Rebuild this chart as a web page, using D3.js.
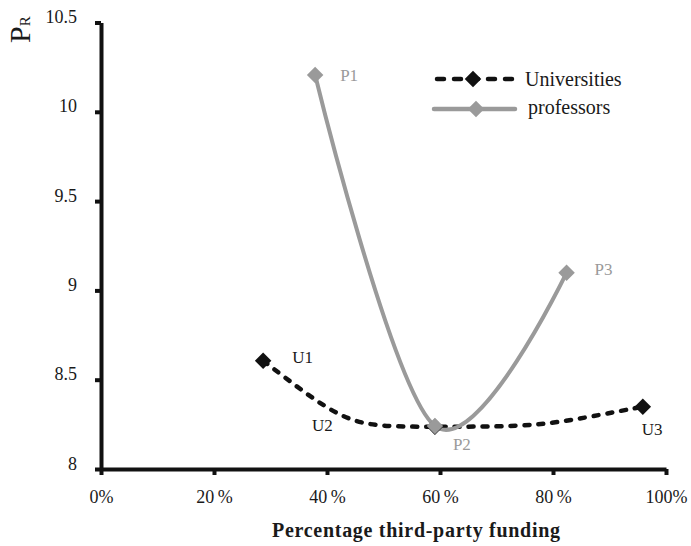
<!DOCTYPE html>
<html><head><meta charset="utf-8">
<script src="https://cdn.jsdelivr.net/npm/d3@7"></script>
<style>
body{margin:0;background:#fff;}
</style></head>
<body><svg id="chart" width="691" height="546"></svg>
<script>
// ---- data ----
const xTicks = [0, 0.2, 0.4, 0.6, 0.8, 1.0];
const yTicks = [8, 8.5, 9, 9.5, 10, 10.5];
const uniLabels = ["U1", "U2", "U3"];
const uniX = [0.287, 0.591, 0.959];
const uniY = [8.606, 8.237, 8.349];
const profLabels = ["P1", "P2", "P3"];
const profX = [0.379, 0.591, 0.824];
const profY = [10.206, 8.241, 9.099];
const seriesNames = ["Universities", "professors"];

// ---- layout ----
const FONT = '"Liberation Serif","DejaVu Serif",serif';
const svg = d3.select("#chart").attr("font-family", FONT);
const x = d3.scaleLinear().domain([0, 1]).range([101, 666]);
const y = d3.scaleLinear().domain([8, 10.5]).range([469, 22.5]);
const black = "#111", gray = "#9a9a9a", textCol = "#1a1a1a";

const uni = uniX.map((v, i) => ({x: v, y: uniY[i], label: uniLabels[i]}));
const prof = profX.map((v, i) => ({x: v, y: profY[i], label: profLabels[i]}));

// smoothing curve for d3.line: monotone-style tangents, long Bezier handles
function curveLongHandle(context) {
  const K = 0.5;
  let pts;
  return {
    areaStart() {}, areaEnd() {},
    lineStart() { pts = []; },
    point(px, py) { pts.push([+px, +py]); },
    lineEnd() {
      const n = pts.length;
      if (!n) return;
      context.moveTo(pts[0][0], pts[0][1]);
      if (n === 1) return;
      const h = [], s = [], t = new Array(n).fill(0);
      for (let i = 0; i < n - 1; i++) {
        h[i] = pts[i + 1][0] - pts[i][0];
        s[i] = (pts[i + 1][1] - pts[i][1]) / h[i];
      }
      for (let i = 1; i < n - 1; i++) {
        t[i] = s[i - 1] * s[i] <= 0 ? 0 : (s[i - 1] * h[i] + s[i] * h[i - 1]) / (h[i - 1] + h[i]);
      }
      if (n === 2) { t[0] = t[1] = s[0]; }
      else { t[0] = 2 * s[0] - t[1]; t[n - 1] = 2 * s[n - 2] - t[n - 2]; }
      for (let i = 0; i < n - 1; i++) {
        const d = K * h[i];
        context.bezierCurveTo(pts[i][0] + d, pts[i][1] + d * t[i],
          pts[i + 1][0] - d, pts[i + 1][1] - d * t[i + 1],
          pts[i + 1][0], pts[i + 1][1]);
      }
    }
  };
}

// axes
const xAxis = svg.append("g").attr("transform", `translate(0,${y(8)})`)
  .call(d3.axisBottom(x).tickValues(xTicks).tickSize(6).tickSizeOuter(0)
    .tickFormat(d => {
      const p = Math.round(d * 100);
      return (p === 0 || p === 100) ? p + "%" : p + "\u2009%";
    }));
const yAxis = svg.append("g").attr("transform", `translate(${x(0)},0)`)
  .call(d3.axisLeft(y).tickValues(yTicks).tickSize(6).tickSizeOuter(0)
    .tickFormat(d => String(d)));
[xAxis, yAxis].forEach(g => {
  g.attr("font-family", FONT);
  g.select(".domain").attr("stroke", black).attr("stroke-width", 4);
  g.selectAll(".tick line").attr("stroke", black).attr("stroke-width", 4);
  g.selectAll(".tick text").attr("fill", textCol).attr("font-family", FONT)
    .attr("font-size", 18);
});
xAxis.selectAll(".tick text").attr("y", 34).attr("dy", 0);
yAxis.selectAll(".tick text").attr("x", -24).attr("dy", 0).attr("y", 0);

// axis titles
svg.append("text").attr("x", 416).attr("y", 537).attr("text-anchor", "middle")
  .attr("textLength", 288).attr("lengthAdjust", "spacing")
  .attr("font-size", 20).attr("font-weight", "bold").attr("fill", textCol)
  .attr("font-family", FONT)
  .text("Percentage third-party funding");
const yl = svg.append("text").attr("transform", "translate(30,43) rotate(-90)")
  .attr("font-size", 30).attr("fill", textCol).attr("font-family", FONT);
yl.append("tspan").text("P");
yl.append("tspan").attr("font-size", 15).text("R");

// curves
const profLine = d3.line().x(d => x(d.x)).y(d => y(d.y)).curve(d3.curveCardinal.tension(0));
const uniLine = d3.line().x(d => x(d.x)).y(d => y(d.y)).curve(curveLongHandle);
svg.append("path").datum(uni).attr("d", uniLine).attr("fill", "none")
  .attr("stroke", black).attr("stroke-width", 4.5).attr("stroke-linecap", "round")
  .attr("stroke-dasharray", "5,9");
svg.append("path").datum(prof).attr("d", profLine).attr("fill", "none")
  .attr("stroke", gray).attr("stroke-width", 4);

const diamond = d3.symbol().type(d3.symbolSquare).size(136);
svg.selectAll(".mu").data(uni).join("path")
  .attr("d", diamond).attr("fill", black)
  .attr("transform", d => `translate(${x(d.x)},${y(d.y)}) rotate(45)`);
svg.selectAll(".mp").data(prof).join("path")
  .attr("d", diamond).attr("fill", gray)
  .attr("transform", d => `translate(${x(d.x)},${y(d.y)}) rotate(45)`);

// point labels (offsets are layout)
const uniOff = [[29, 2], [-123, 4], [-1, 28]];
const profOff = [[25, 6], [18, 24], [28, 2]];
svg.selectAll(".lu").data(uni).join("text")
  .attr("x", (d, i) => x(d.x) + uniOff[i][0]).attr("y", (d, i) => y(d.y) + uniOff[i][1])
  .attr("font-size", 17).attr("fill", textCol).text(d => d.label);
svg.selectAll(".lp").data(prof).join("text")
  .attr("x", (d, i) => x(d.x) + profOff[i][0]).attr("y", (d, i) => y(d.y) + profOff[i][1])
  .attr("font-size", 17).attr("fill", gray).text(d => d.label);

// legend
const lg = svg.append("g");
lg.append("line").attr("x1", 437).attr("x2", 514).attr("y1", 79).attr("y2", 79)
  .attr("stroke", black).attr("stroke-width", 4.5).attr("stroke-linecap", "round")
  .attr("stroke-dasharray", "7,10");
lg.append("path").attr("d", diamond).attr("fill", black).attr("transform", "translate(473,79) rotate(45)");
lg.append("text").attr("x", 525).attr("y", 86).attr("font-size", 20).attr("fill", textCol).text(seriesNames[0]);
lg.append("line").attr("x1", 434).attr("x2", 515).attr("y1", 109).attr("y2", 109)
  .attr("stroke", gray).attr("stroke-width", 4.5).attr("stroke-linecap", "round");
lg.append("path").attr("d", diamond).attr("fill", gray).attr("transform", "translate(476,109) rotate(45)");
lg.append("text").attr("x", 528).attr("y", 114).attr("font-size", 20).attr("fill", textCol).text(seriesNames[1]);
</script></body></html>
